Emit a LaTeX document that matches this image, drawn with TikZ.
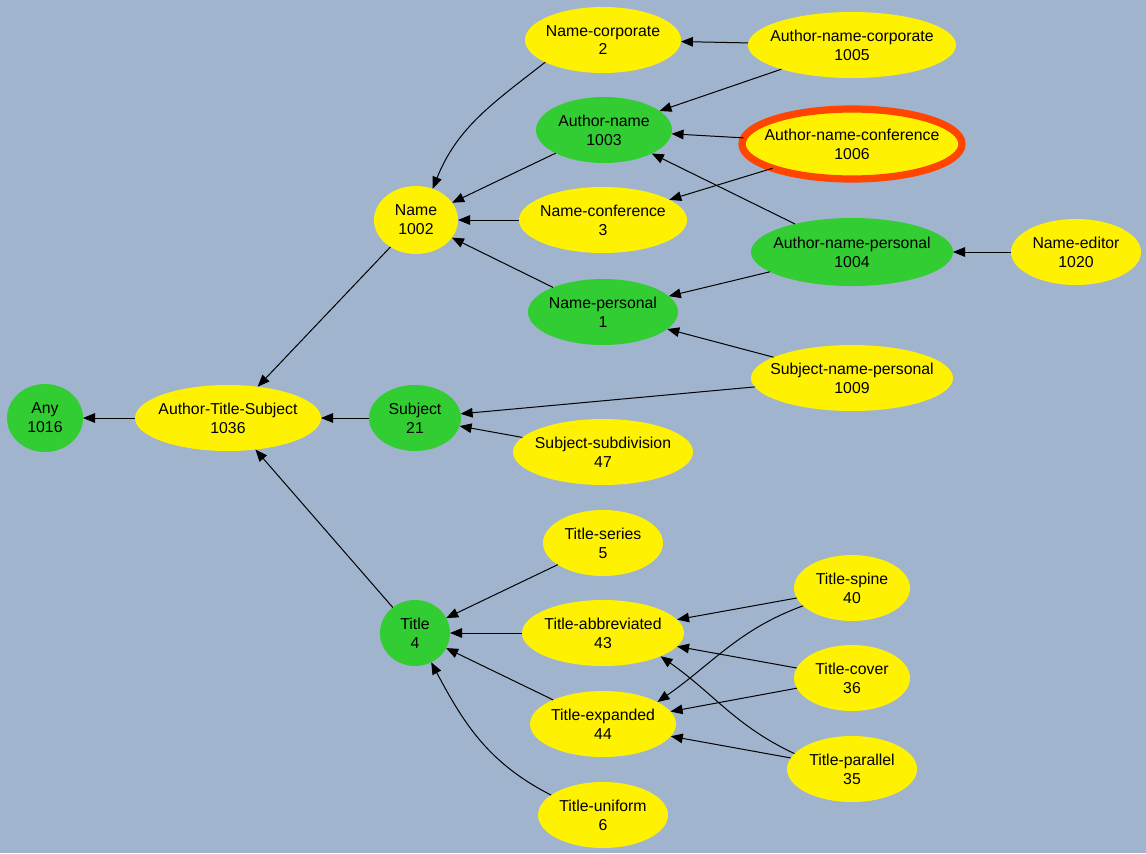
\documentclass[tikz,border=0pt]{standalone}
\usepackage{fontspec}
\setmainfont{Liberation Sans}
\usepackage{tikz}
\usetikzlibrary{arrows.meta}
\usetikzlibrary{shapes.geometric}
\tikzset{>={Triangle[length=6pt,width=4.8pt]}}
\definecolor{bgblue}{RGB}{161,180,205}
\definecolor{limeg}{RGB}{50,205,50}
\definecolor{orred}{RGB}{255,69,0}

\begin{document}
\begin{tikzpicture}[x=0.5pt,y=0.5pt,
  yellow node/.style={ellipse,fill=yellow,inner sep=0pt,outer sep=0pt,minimum height=33pt},
  green node/.style={yellow node,fill=limeg},
  every label/.style={align=center,font=\fontsize{7.9}{9.4}\selectfont,inner sep=0pt},
  link/.style={->,line width=0.5pt}]
\fill[bgblue] (0,0) rectangle (1146,-853);
\useasboundingbox (0,0) rectangle (1146,-853);
% root and middle column
\node[green node,minimum width=38pt,minimum height=34pt,label={center:Any\\1016}] (any) at (45,-418) {};
\node[yellow node,minimum width=93pt,label={center:Author-Title-Subject\\1036}] (ats) at (228,-418) {};
\node[yellow node,minimum width=42pt,minimum height=34pt,label={center:Name\\1002}] (name) at (416,-220) {};
\node[green node,minimum width=46pt,label={center:Subject\\21}] (subject) at (415,-418) {};
\node[green node,minimum width=35pt,label={center:Title\\4}] (title) at (415,-633) {};
% name children
\node[yellow node,minimum width=78pt,label={center:Name-corporate\\2}] (namecorp) at (603,-40) {};
\node[green node,minimum width=68pt,label={center:Author-name\\1003}] (authname) at (604,-130) {};
\node[yellow node,minimum width=84pt,label={center:Name-conference\\3}] (nameconf) at (603,-220) {};
\node[green node,minimum width=75pt,label={center:Name-personal\\1}] (namepers) at (603,-312) {};
\node[yellow node,minimum width=90pt,label={center:Subject-subdivision\\47}] (subdiv) at (603,-452) {};
% title children
\node[yellow node,minimum width=60pt,label={center:Title-series\\5}] (tseries) at (603,-543) {};
\node[yellow node,minimum width=81pt,label={center:Title-abbreviated\\43}] (tabbr) at (603,-633) {};
\node[yellow node,minimum width=73pt,label={center:Title-expanded\\44}] (texp) at (603,-724) {};
\node[yellow node,minimum width=65pt,label={center:Title-uniform\\6}] (tunif) at (603,-815) {};
% right column
\node[yellow node,minimum width=104pt,label={center:Author-name-corporate\\1005}] (anc) at (852,-45) {};
\node[yellow node,draw=orred,line width=3.6pt,minimum width=110pt,minimum height=35pt,label={center:Author-name-conference\\1006}] (anconf) at (852,-144) {};
\node[green node,minimum width=101pt,minimum height=34pt,label={center:Author-name-personal\\1004}] (anpers) at (852,-252) {};
\node[yellow node,minimum width=65pt,label={center:Name-editor\\1020}] (editor) at (1076,-252) {};
\node[yellow node,minimum width=101pt,label={center:Subject-name-personal\\1009}] (snp) at (852,-378) {};
\node[yellow node,minimum width=58pt,label={center:Title-spine\\40}] (tspine) at (852,-588) {};
\node[yellow node,minimum width=58pt,label={center:Title-cover\\36}] (tcover) at (852,-678) {};
\node[yellow node,minimum width=65pt,label={center:Title-parallel\\35}] (tpar) at (852,-769) {};
% links
\draw[link] (ats) -- (any);
\draw[link] (name) -- (ats);
\draw[link] (subject) -- (ats);
\draw[link] (title) -- (ats);
\draw[link] (namecorp.201) to[out=218,in=68] (name.62);
\draw[link] (authname) -- (name);
\draw[link] (nameconf) -- (name);
\draw[link] (namepers) -- (name);
\draw[link] (anc) -- (namecorp);
\draw[link] (anc) -- (authname);
\draw[link] (anconf) -- (authname);
\draw[link] (anconf) -- (nameconf);
\draw[link] (anpers) -- (authname);
\draw[link] (anpers) -- (namepers);
\draw[link] (editor) -- (anpers);
\draw[link] (snp) -- (namepers);
\draw[link] (snp) -- (subject);
\draw[link] (subdiv) -- (subject);
\draw[link] (tseries) -- (title);
\draw[link] (tabbr) -- (title);
\draw[link] (texp) -- (title);
\draw[link] (tunif.159) to[out=153,in=-62] (title.-61);
\draw[link] (tspine) -- (tabbr);
\draw[link] (tspine) to[out=200,in=35] (texp.22);
\draw[link] (tcover) -- (tabbr);
\draw[link] (tcover) -- (texp);
\draw[link] (tpar.165) to[out=155,in=-35] (tabbr.-22);
\draw[link] (tpar) -- (texp);
\end{tikzpicture}
\end{document}
